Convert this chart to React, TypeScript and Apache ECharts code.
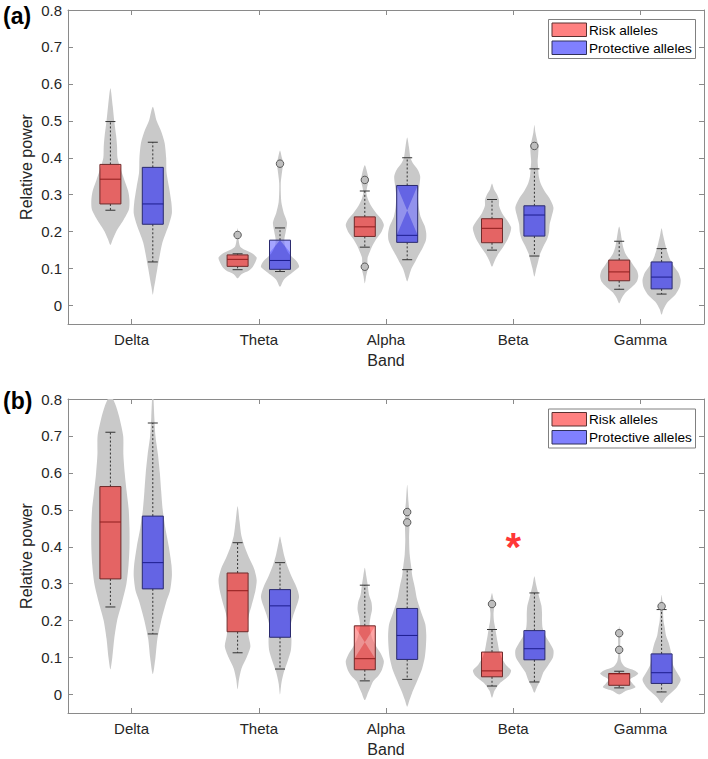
import React, { useEffect, useRef } from 'react';
import * as echarts from 'echarts';

// ---------- data ----------
const bands = ['Delta', 'Theta', 'Alpha', 'Beta', 'Gamma'];
const yTicks = [0, 0.1, 0.2, 0.3, 0.4, 0.5, 0.6, 0.7, 0.8];
const bandTicks = [1, 2, 3, 4, 5];

// Panel (a) box statistics
const riskA_low = [0.258, 0.097, 0.158, 0.150, 0.044];
const riskA_q1 = [0.275, 0.106, 0.187, 0.170, 0.067];
const riskA_median = [0.342, 0.125, 0.213, 0.209, 0.091];
const riskA_q3 = [0.382, 0.137, 0.240, 0.235, 0.123];
const riskA_high = [0.498, 0.140, 0.310, 0.287, 0.174];

const protA_low = [0.118, 0.092, 0.124, 0.134, 0.031];
const protA_q1 = [0.220, 0.098, 0.171, 0.188, 0.045];
const protA_median = [0.275, 0.122, 0.190, 0.245, 0.077];
const protA_q3 = [0.374, 0.177, 0.325, 0.270, 0.118];
const protA_high = [0.442, 0.210, 0.400, 0.370, 0.154];

// Panel (b) box statistics
const riskB_low = [0.237, 0.113, 0.037, 0.023, 0.018];
const riskB_q1 = [0.313, 0.170, 0.067, 0.048, 0.025];
const riskB_median = [0.467, 0.281, 0.097, 0.064, 0.056];
const riskB_q3 = [0.563, 0.329, 0.186, 0.115, 0.057];
const riskB_high = [0.710, 0.411, 0.296, 0.176, 0.063];

const protB_low = [0.164, 0.069, 0.041, 0.034, 0.007];
const protB_q1 = [0.286, 0.155, 0.095, 0.094, 0.030];
const protB_median = [0.357, 0.240, 0.160, 0.124, 0.059];
const protB_q3 = [0.483, 0.284, 0.233, 0.173, 0.110];
const protB_high = [0.735, 0.357, 0.338, 0.275, 0.230];

// Outliers [band, value]
const riskA_outliers = [['Theta', 0.191], ['Alpha', 0.340], ['Alpha', 0.105]];
const protA_outliers = [['Theta', 0.384], ['Beta', 0.432]];
const riskB_outliers = [['Beta', 0.245], ['Gamma', 0.166], ['Gamma', 0.121]];
const protB_outliers = [['Alpha', 0.494], ['Alpha', 0.466], ['Gamma', 0.239]];

// Significance marker
const significance = [['Beta', 0.42]];

// Violin density profiles: [value, relative density 0..1]
const riskA_violin = [
  [[0.164, 0], [0.18, 0.13], [0.2, 0.3], [0.23, 0.67], [0.26, 0.97], [0.285, 1], [0.31, 0.93], [0.34, 0.73], [0.37, 0.53], [0.40, 0.37], [0.43, 0.35], [0.46, 0.3], [0.50, 0.2], [0.54, 0.12], [0.588, 0]],
  [[0.074, 0], [0.085, 0.2], [0.095, 0.6], [0.105, 0.8], [0.12, 0.95], [0.13, 1], [0.14, 0.8], [0.15, 0.4], [0.16, 0.13], [0.18, 0.05], [0.2, 0.03], [0.21, 0]],
  [[0.06, 0], [0.08, 0.07], [0.095, 0.14], [0.105, 0.17], [0.115, 0.14], [0.13, 0.15], [0.145, 0.26], [0.16, 0.38], [0.18, 0.6], [0.2, 0.88], [0.218, 1], [0.235, 0.85], [0.25, 0.6], [0.27, 0.33], [0.29, 0.15], [0.305, 0.08], [0.32, 0.12], [0.34, 0.2], [0.355, 0.15], [0.38, 0]],
  [[0.105, 0], [0.12, 0.13], [0.14, 0.33], [0.16, 0.6], [0.18, 0.83], [0.2, 0.97], [0.212, 1], [0.23, 0.8], [0.25, 0.53], [0.27, 0.37], [0.285, 0.37], [0.3, 0.27], [0.315, 0.1], [0.33, 0]],
  [[0.006, 0], [0.02, 0.13], [0.035, 0.33], [0.05, 0.67], [0.065, 0.93], [0.08, 1], [0.095, 0.93], [0.11, 0.73], [0.125, 0.53], [0.14, 0.33], [0.16, 0.2], [0.18, 0.13], [0.2, 0.07], [0.214, 0]],
];
const protA_violin = [
  [[0.029, 0], [0.05, 0.07], [0.07, 0.14], [0.1, 0.24], [0.14, 0.38], [0.17, 0.5], [0.196, 0.68], [0.22, 0.85], [0.25, 1], [0.28, 0.97], [0.32, 0.85], [0.36, 0.72], [0.40, 0.7], [0.44, 0.62], [0.47, 0.45], [0.5, 0.2], [0.538, 0]],
  [[0.051, 0], [0.07, 0.2], [0.09, 0.67], [0.105, 1], [0.12, 0.87], [0.14, 0.47], [0.16, 0.27], [0.18, 0.23], [0.2, 0.3], [0.225, 0.37], [0.25, 0.2], [0.28, 0.07], [0.33, 0.04], [0.37, 0.13], [0.385, 0.17], [0.40, 0.1], [0.42, 0]],
  [[0.065, 0], [0.08, 0.1], [0.097, 0.2], [0.115, 0.38], [0.133, 0.56], [0.155, 0.8], [0.177, 0.98], [0.195, 1], [0.215, 0.92], [0.24, 0.7], [0.27, 0.6], [0.3, 0.58], [0.33, 0.65], [0.35, 0.68], [0.367, 0.56], [0.385, 0.3], [0.4, 0.17], [0.43, 0.09], [0.455, 0]],
  [[0.078, 0], [0.1, 0.1], [0.12, 0.2], [0.14, 0.3], [0.16, 0.47], [0.18, 0.67], [0.2, 0.77], [0.22, 0.8], [0.24, 0.9], [0.265, 1], [0.29, 0.8], [0.31, 0.53], [0.33, 0.33], [0.35, 0.23], [0.37, 0.2], [0.39, 0.17], [0.41, 0.2], [0.43, 0.21], [0.45, 0.13], [0.47, 0.05], [0.489, 0]],
  [[-0.025, 0], [-0.01, 0.1], [0.01, 0.33], [0.03, 0.73], [0.05, 0.95], [0.07, 1], [0.09, 0.87], [0.11, 0.6], [0.13, 0.4], [0.15, 0.27], [0.17, 0.17], [0.19, 0.08], [0.209, 0]],
];
const riskB_violin = [
  [[0.068, 0], [0.1, 0.1], [0.15, 0.2], [0.2, 0.35], [0.25, 0.61], [0.3, 0.84], [0.35, 0.95], [0.4, 1], [0.45, 1], [0.5, 0.96], [0.55, 0.85], [0.6, 0.75], [0.65, 0.68], [0.7, 0.67], [0.75, 0.47], [0.78, 0.3], [0.8, 0.14], [0.815, 0]],
  [[0.014, 0], [0.04, 0.07], [0.07, 0.2], [0.1, 0.47], [0.13, 0.67], [0.16, 0.57], [0.2, 0.53], [0.24, 0.73], [0.28, 0.93], [0.31, 1], [0.34, 0.87], [0.37, 0.6], [0.4, 0.37], [0.43, 0.2], [0.47, 0.1], [0.51, 0]],
  [[-0.015, 0], [0.005, 0.17], [0.02, 0.3], [0.036, 0.44], [0.05, 0.7], [0.067, 0.9], [0.09, 1], [0.11, 0.85], [0.13, 0.6], [0.15, 0.4], [0.17, 0.3], [0.19, 0.25], [0.21, 0.3], [0.23, 0.38], [0.25, 0.35], [0.27, 0.22], [0.297, 0.15], [0.32, 0.08], [0.343, 0]],
  [[-0.009, 0], [0.01, 0.13], [0.03, 0.4], [0.05, 0.87], [0.065, 1], [0.08, 0.73], [0.1, 0.5], [0.12, 0.37], [0.14, 0.3], [0.16, 0.23], [0.18, 0.17], [0.2, 0.1], [0.22, 0.08], [0.245, 0.13], [0.26, 0.07], [0.275, 0]],
  [[0.0, 0], [0.01, 0.35], [0.02, 0.85], [0.03, 0.7], [0.04, 0.55], [0.05, 0.85], [0.057, 1], [0.065, 0.8], [0.075, 0.3], [0.09, 0.1], [0.11, 0.05], [0.13, 0.05], [0.15, 0.06], [0.17, 0.04], [0.185, 0]],
];
const protB_violin = [
  [[0.055, 0], [0.1, 0.14], [0.15, 0.24], [0.2, 0.44], [0.25, 0.7], [0.28, 0.9], [0.32, 1], [0.35, 0.98], [0.4, 0.84], [0.45, 0.66], [0.5, 0.52], [0.55, 0.44], [0.6, 0.37], [0.65, 0.27], [0.7, 0.14], [0.75, 0.08], [0.8, 0.04], [0.83, 0]],
  [[0.0, 0], [0.03, 0.07], [0.06, 0.2], [0.09, 0.4], [0.12, 0.57], [0.15, 0.6], [0.18, 0.53], [0.21, 0.67], [0.24, 0.87], [0.265, 1], [0.29, 0.87], [0.32, 0.6], [0.35, 0.37], [0.38, 0.2], [0.41, 0.08], [0.428, 0]],
  [[-0.033, 0], [-0.015, 0.12], [0.005, 0.26], [0.04, 0.55], [0.07, 0.78], [0.1, 0.92], [0.13, 0.98], [0.16, 1], [0.19, 0.95], [0.22, 0.75], [0.257, 0.52], [0.29, 0.4], [0.32, 0.27], [0.35, 0.2], [0.38, 0.13], [0.42, 0.1], [0.46, 0.12], [0.49, 0.12], [0.52, 0.07], [0.568, 0]],
  [[0.005, 0], [0.02, 0.13], [0.04, 0.33], [0.06, 0.47], [0.08, 0.73], [0.1, 0.97], [0.12, 1], [0.14, 0.8], [0.16, 0.57], [0.18, 0.43], [0.2, 0.4], [0.22, 0.4], [0.24, 0.37], [0.26, 0.27], [0.28, 0.17], [0.3, 0.08], [0.32, 0]],
  [[-0.023, 0], [-0.01, 0.2], [0.0, 0.4], [0.02, 0.8], [0.04, 1], [0.06, 0.8], [0.08, 0.6], [0.1, 0.53], [0.12, 0.47], [0.14, 0.37], [0.16, 0.23], [0.18, 0.17], [0.2, 0.1], [0.22, 0.08], [0.24, 0.08], [0.255, 0.04], [0.27, 0]],
];

// Notched boxes whose notch runs past the box (lighter areas)
const notchA_prot = [null, { kind: 'corner', level: 0.143 }, { kind: 'x' }, null, null];
const notchB_risk = [null, null, { kind: 'x' }, null, null];

// ---------- styling ----------
const FONT = '"Liberation Sans", Arial, Helvetica, sans-serif';
const AX = '#8a8a8a';
const TXT = '#262626';
const OFFSET = 1 / 6;
const BOX_HALF = 0.0825;
const VIOLIN_HALF = 0.15;
const RED = { fill: 'rgba(255,0,0,0.5)', edge: '#6e2a2a', median: '#8e1c1c', legend: '#FF8080' };
const BLUE = { fill: 'rgba(0,0,255,0.5)', edge: '#2a2a6e', median: '#1c1c8e', legend: '#8080FF' };

function violinSeries(name: string, profiles: number[][][], offset: number, ai: number) {
  return {
    type: 'custom',
    name,
    xAxisIndex: ai,
    yAxisIndex: ai,
    clip: true,
    silent: true,
    z: 1,
    data: profiles.map((_, i) => [i + 1 + offset, 0.3]),
    encode: { x: 0, y: 1 },
    renderItem: (params: any, api: any) => {
      const prof = profiles[params.dataIndex];
      const cx = params.dataIndex + 1 + offset;
      const right = prof.map(([v, d]) => api.coord([cx + d * VIOLIN_HALF, v]));
      const left = prof
        .slice(1, prof.length - 1)
        .reverse()
        .map(([v, d]) => api.coord([cx - d * VIOLIN_HALF, v]));
      return {
        type: 'polygon',
        shape: { points: right.concat(left), smooth: 0.25 },
        style: { fill: '#C9C9C9', stroke: 'none' },
      };
    },
  };
}

function boxSeries(name: string, st: any, offset: number, col: any, notches: any[], ai: number) {
  return {
    type: 'custom',
    name,
    xAxisIndex: ai,
    yAxisIndex: ai,
    silent: true,
    z: 2,
    data: st.median.map((m: number, i: number) => [i + 1 + offset, m]),
    encode: { x: 0, y: 1 },
    renderItem: (params: any, api: any) => {
      const i = params.dataIndex;
      const cx = i + 1 + offset;
      const y = (v: number) => api.coord([cx, v])[1];
      const xc = api.coord([cx, 0])[0];
      const xl = api.coord([cx - BOX_HALF, 0])[0];
      const xr = api.coord([cx + BOX_HALF, 0])[0];
      const lo = st.low[i], q1 = st.q1[i], md = st.median[i], q3 = st.q3[i], hi = st.high[i];
      const cap = 5;
      const ch: any[] = [
        { type: 'line', shape: { x1: xc, y1: y(q3), x2: xc, y2: y(hi) }, style: { stroke: '#333', lineWidth: 1, lineDash: [2, 2] } },
        { type: 'line', shape: { x1: xc, y1: y(q1), x2: xc, y2: y(lo) }, style: { stroke: '#333', lineWidth: 1, lineDash: [2, 2] } },
        { type: 'line', shape: { x1: xc - cap, y1: y(hi), x2: xc + cap, y2: y(hi) }, style: { stroke: '#333', lineWidth: 1 } },
        { type: 'line', shape: { x1: xc - cap, y1: y(lo), x2: xc + cap, y2: y(lo) }, style: { stroke: '#333', lineWidth: 1 } },
        { type: 'rect', shape: { x: xl, y: y(q3), width: xr - xl, height: y(q1) - y(q3) }, style: { fill: col.fill, stroke: 'none' } },
      ];
      const n = notches[i];
      const light = 'rgba(255,255,255,0.3)';
      if (n && n.kind === 'x') {
        const mid = y((q3 + md) / 2);
        ch.push({ type: 'polygon', shape: { points: [[xl, y(q3)], [xl, y(md)], [xc, mid]] }, style: { fill: light } });
        ch.push({ type: 'polygon', shape: { points: [[xr, y(q3)], [xr, y(md)], [xc, mid]] }, style: { fill: light } });
      } else if (n && n.kind === 'corner') {
        ch.push({ type: 'polygon', shape: { points: [[xl, y(q3)], [xc, y(q3)], [xl, y(n.level)]] }, style: { fill: light } });
        ch.push({ type: 'polygon', shape: { points: [[xr, y(q3)], [xc, y(q3)], [xr, y(n.level)]] }, style: { fill: light } });
      }
      ch.push({ type: 'rect', shape: { x: xl, y: y(q3), width: xr - xl, height: y(q1) - y(q3) }, style: { fill: 'none', stroke: col.edge, lineWidth: 1 } });
      ch.push({ type: 'line', shape: { x1: xl, y1: y(md), x2: xr, y2: y(md) }, style: { stroke: col.median, lineWidth: 1 } });
      return { type: 'group', children: ch };
    },
  };
}

function outlierSeries(name: string, pts: any[], offset: number, ai: number) {
  return {
    type: 'scatter',
    name,
    xAxisIndex: ai,
    yAxisIndex: ai,
    z: 3,
    symbol: 'circle',
    symbolSize: 7.5,
    itemStyle: { color: '#BEBEBE', borderColor: '#404040', borderWidth: 0.8, opacity: 1 },
    data: pts.map(([b, v]) => [bands.indexOf(b) + 1 + offset, v]),
  };
}

function xAxes(gi: number) {
  return [
    {
      type: 'value', gridIndex: gi, min: 0.5, max: 5.5, position: 'bottom',
      axisLine: { show: true, onZero: false, lineStyle: { color: AX, width: 1 } },
      axisTick: { show: true, inside: true, length: 5, customValues: bandTicks, lineStyle: { color: AX } },
      axisLabel: { show: true, customValues: bandTicks, formatter: (v: number) => bands[Math.round(v) - 1], margin: 8, color: TXT, fontSize: 15, fontFamily: FONT },
      splitLine: { show: false },
      name: 'Band', nameLocation: 'middle', nameGap: 28, nameMoveOverlap: false,
      nameTextStyle: { color: TXT, fontSize: 16, fontFamily: FONT },
    },
    {
      type: 'value', gridIndex: gi, min: 0.5, max: 5.5, position: 'top',
      axisLine: { show: true, onZero: false, lineStyle: { color: AX, width: 1 } },
      axisTick: { show: true, inside: true, length: 5, customValues: bandTicks, lineStyle: { color: AX } },
      axisLabel: { show: false },
      splitLine: { show: false },
    },
  ];
}

function yAxes(gi: number) {
  return [
    {
      type: 'value', gridIndex: gi, min: -0.05, max: 0.8, position: 'left',
      axisLine: { show: true, onZero: false, lineStyle: { color: AX, width: 1 } },
      axisTick: { show: true, inside: true, length: 5, customValues: yTicks, lineStyle: { color: AX } },
      axisLabel: { show: true, customValues: yTicks, formatter: (v: number) => String(v), margin: 6, color: TXT, fontSize: 15, fontFamily: FONT },
      splitLine: { show: false },
      name: 'Relative power', nameLocation: 'middle', nameGap: 34, nameMoveOverlap: false,
      nameTextStyle: { color: TXT, fontSize: 16, fontFamily: FONT },
    },
    {
      type: 'value', gridIndex: gi, min: -0.05, max: 0.8, position: 'right',
      axisLine: { show: true, onZero: false, lineStyle: { color: AX, width: 1 } },
      axisTick: { show: true, inside: true, length: 5, customValues: yTicks, lineStyle: { color: AX } },
      axisLabel: { show: false },
      splitLine: { show: false },
    },
  ];
}

function legendGraphic(top: number) {
  return {
    type: 'group',
    children: [
      { type: 'rect', shape: { x: 548.5, y: top + 19.5, width: 147, height: 39 }, style: { fill: '#fff', stroke: '#808080', lineWidth: 1 } },
      { type: 'rect', shape: { x: 552, y: top + 23, width: 34.5, height: 13.5 }, style: { fill: RED.legend, stroke: '#5a3030', lineWidth: 1 } },
      { type: 'rect', shape: { x: 552, y: top + 41, width: 34.5, height: 13.5 }, style: { fill: BLUE.legend, stroke: '#30305a', lineWidth: 1 } },
      { type: 'text', x: 589, y: top + 30, style: { text: 'Risk alleles', fontSize: 13.6, fontFamily: FONT, fill: '#000', verticalAlign: 'middle' } },
      { type: 'text', x: 589, y: top + 48, style: { text: 'Protective alleles', fontSize: 13.6, fontFamily: FONT, fill: '#000', verticalAlign: 'middle' } },
    ],
  };
}

function buildOption() {
  const stats = (lo: number[], q1: number[], md: number[], q3: number[], hi: number[]) => ({ low: lo, q1, median: md, q3, high: hi });
  const noNotch = [null, null, null, null, null];
  return {
    animation: false,
    textStyle: { fontFamily: FONT },
    grid: [
      { left: 68, top: 10, width: 636, height: 314 },
      { left: 68, top: 399, width: 636, height: 314 },
    ],
    // axes: 0 = panel (a) main, 1 = panel (b) main, 2/3 = mirrored frame axes
    xAxis: [xAxes(0)[0], xAxes(1)[0], xAxes(0)[1], xAxes(1)[1]],
    yAxis: [yAxes(0)[0], yAxes(1)[0], yAxes(0)[1], yAxes(1)[1]],
    series: [
      violinSeries('Risk alleles violin (a)', riskA_violin, -OFFSET, 0),
      violinSeries('Protective alleles violin (a)', protA_violin, OFFSET, 0),
      boxSeries('Risk alleles (a)', stats(riskA_low, riskA_q1, riskA_median, riskA_q3, riskA_high), -OFFSET, RED, noNotch, 0),
      boxSeries('Protective alleles (a)', stats(protA_low, protA_q1, protA_median, protA_q3, protA_high), OFFSET, BLUE, notchA_prot, 0),
      outlierSeries('Risk outliers (a)', riskA_outliers, -OFFSET, 0),
      outlierSeries('Protective outliers (a)', protA_outliers, OFFSET, 0),

      violinSeries('Risk alleles violin (b)', riskB_violin, -OFFSET, 1),
      violinSeries('Protective alleles violin (b)', protB_violin, OFFSET, 1),
      boxSeries('Risk alleles (b)', stats(riskB_low, riskB_q1, riskB_median, riskB_q3, riskB_high), -OFFSET, RED, notchB_risk, 1),
      boxSeries('Protective alleles (b)', stats(protB_low, protB_q1, protB_median, protB_q3, protB_high), OFFSET, BLUE, noNotch, 1),
      outlierSeries('Risk outliers (b)', riskB_outliers, -OFFSET, 1),
      outlierSeries('Protective outliers (b)', protB_outliers, OFFSET, 1),
      {
        type: 'scatter', name: 'Significance', xAxisIndex: 1, yAxisIndex: 1, z: 4,
        symbolSize: 1, itemStyle: { color: 'rgba(0,0,0,0)' },
        data: significance.map(([b, v]) => [bands.indexOf(b as string) + 1, v]),
        label: { show: true, formatter: '*', position: 'inside', color: '#FF0000', fontSize: 40, fontWeight: 'bold', fontFamily: FONT, offset: [0, 8] },
      },
    ],
    graphic: [
      { type: 'text', x: 3, y: 16, style: { text: '(a)', fontSize: 23, fontWeight: 'bold', fontFamily: FONT, fill: '#000', verticalAlign: 'middle' } },
      { type: 'text', x: 3, y: 401, style: { text: '(b)', fontSize: 23, fontWeight: 'bold', fontFamily: FONT, fill: '#000', verticalAlign: 'middle' } },
      legendGraphic(0),
      legendGraphic(389.5),
    ],
  };
}

export default function App() {
  const ref = useRef<HTMLDivElement>(null);
  useEffect(() => {
    document.body.style.margin = '0';
    if (!ref.current) return;
    const chart = echarts.init(ref.current, null, { renderer: 'svg' });
    chart.setOption(buildOption() as any);
    return () => chart.dispose();
  }, []);
  return <div ref={ref} style={{ width: 708, height: 759, background: '#fff' }} />;
}
